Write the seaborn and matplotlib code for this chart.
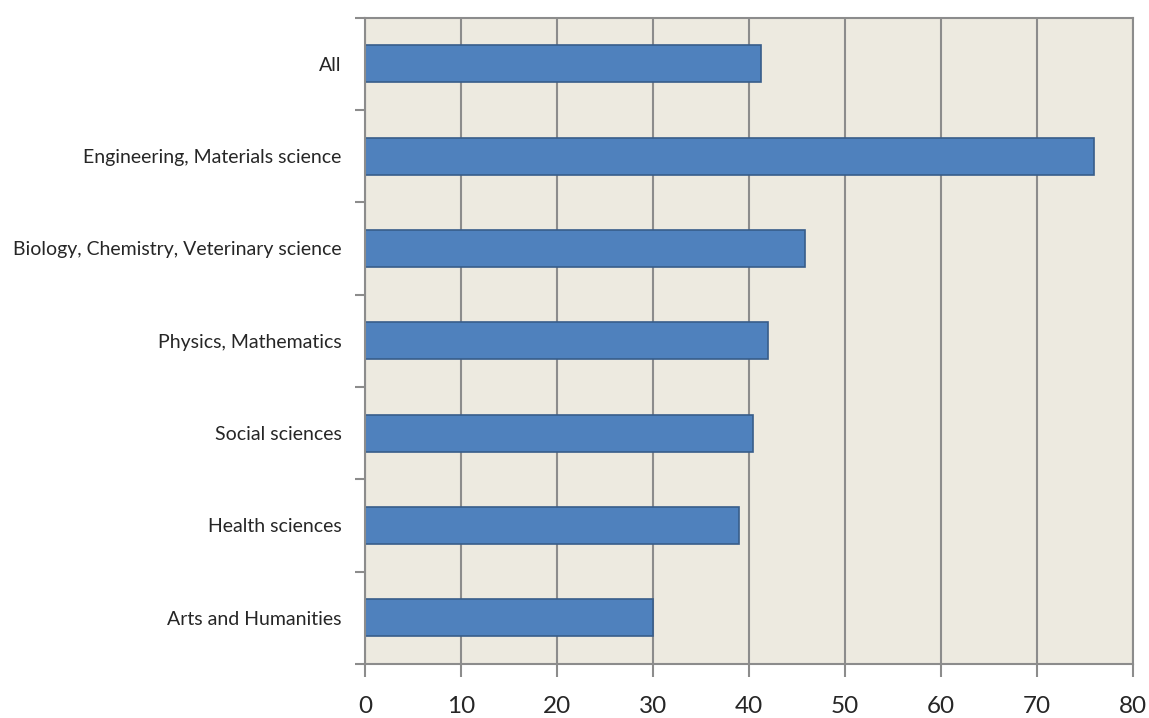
import matplotlib
matplotlib.use("Agg")
import matplotlib.pyplot as plt
import seaborn as sns
import pandas as pd
from matplotlib.ticker import FixedLocator

categories = ["All", "Engineering, Materials science", "Biology, Chemistry, Veterinary science",
              "Physics, Mathematics", "Social sciences", "Health sciences", "Arts and Humanities"]
values = [41.3, 75.9, 45.8, 42.0, 40.4, 39.0, 30.0]
xticks = [0, 10, 20, 30, 40, 50, 60, 70, 80]

sns.set_theme(style="white")
plt.rcParams['font.family'] = ['Lato', 'DejaVu Sans']

df = pd.DataFrame({"cat": categories, "val": values})

fig = plt.figure(figsize=(11.49, 7.18), dpi=100)
ax = fig.add_axes([365/1149, 1 - 664/718, (1133-365)/1149, (664-17.5)/718])
ax.set_facecolor("#EDEAE0")
ax.set_axisbelow(True)

sns.barplot(data=df, x="val", y="cat", orient="h", color="#4F81BD", saturation=1,
            width=0.4, edgecolor="#385D8A", linewidth=1.2, ax=ax)

grid_c = "#8C8C8C"
ax.set_xlim(0, 80)
ax.set_ylim(len(categories) - 0.5, -0.5)
ax.set_xticks(xticks)
ax.set_xticklabels([str(t) for t in xticks], fontsize=17.5)
ax.xaxis.grid(True, color=grid_c, linewidth=1.5)
ax.yaxis.grid(False)
ax.tick_params(axis="x", direction="out", length=9, width=1.5, color=grid_c, pad=14, bottom=True)
ax.tick_params(axis="y", which="major", length=0, pad=17, labelsize=14)
ax.yaxis.set_minor_locator(FixedLocator([i - 0.5 for i in range(len(categories) + 1)]))
ax.tick_params(axis="y", which="minor", direction="out", length=7, width=1.5, color=grid_c, left=True)
ax.set_xlabel("")
ax.set_ylabel("")
for s in ["left", "bottom", "top", "right"]:
    ax.spines[s].set_color(grid_c)
    ax.spines[s].set_linewidth(1.5)
    ax.spines[s].set_visible(True)

fig.savefig("out.png", dpi=100, facecolor="white")
